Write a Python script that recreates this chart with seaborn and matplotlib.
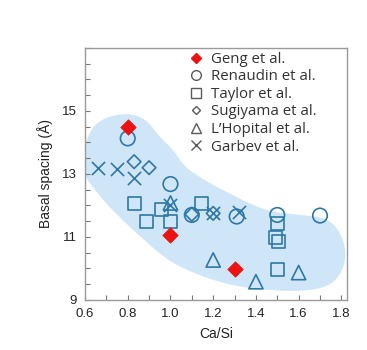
import numpy as np
import pandas as pd
import matplotlib
matplotlib.use("Agg")
import matplotlib.pyplot as plt
from matplotlib.lines import Line2D
from matplotlib.ticker import MultipleLocator
import seaborn as sns

# data (Ca/Si, basal spacing in angstrom)
geng_x = [0.80, 1.00, 1.30]
geng_y = [14.48, 11.06, 9.97]
renaudin_x = [0.80, 1.00, 1.10, 1.31, 1.50, 1.70]
renaudin_y = [14.13, 12.68, 11.70, 11.65, 11.70, 11.68]
taylor_x = [0.83, 0.89, 0.96, 1.00, 1.145, 1.50, 1.49, 1.505, 1.50]
taylor_y = [12.07, 11.50, 11.88, 11.49, 12.07, 11.43, 10.97, 10.86, 9.97]
sugiyama_x = [0.83, 0.90, 1.10, 1.20]
sugiyama_y = [13.39, 13.20, 11.72, 11.75]
lhopital_x = [1.00, 1.20, 1.40, 1.60]
lhopital_y = [12.08, 10.27, 9.58, 9.87]
garbev_x = [0.66, 0.75, 0.83, 1.00, 1.20, 1.32]
garbev_y = [13.18, 13.16, 12.86, 12.00, 11.75, 11.80]

# outline of the shaded band (clockwise from the left end)
band_x = [0.598, 0.604, 0.632, 0.665, 0.712, 0.794, 0.857, 0.903, 0.950, 1.011,
          1.067, 1.138, 1.199, 1.293, 1.372, 1.478, 1.604, 1.714, 1.782, 1.822,
          1.812, 1.762, 1.686, 1.558, 1.370, 1.214, 1.054, 0.970, 0.899, 0.806,
          0.745, 0.698, 0.632, 0.598]
band_y = [13.51, 14.04, 14.44, 14.66, 14.83, 14.92, 14.83, 14.60, 14.17, 13.79,
          13.22, 12.90, 12.65, 12.33, 12.05, 11.79, 11.70, 11.63, 11.31, 10.65,
          10.00, 9.53, 9.33, 9.27, 9.36, 9.59, 10.01, 10.36, 10.77, 11.34,
          11.75, 12.07, 12.62, 12.95]

labels = ["Geng et al.", "Renaudin et al.", "Taylor et al.",
          "Sugiyama et al.", "L\u2019Hopital et al.", "Garbev et al."]

BLUE = "#2f78a6"
RED = "#ee1111"
GREY = "#5a5a5a"


def chaikin(xs, ys, n=3):
    pts = np.column_stack([xs, ys])
    for _ in range(n):
        nxt = np.roll(pts, -1, axis=0)
        q = 0.75 * pts + 0.25 * nxt
        r = 0.25 * pts + 0.75 * nxt
        pts = np.empty((2 * len(q), 2))
        pts[0::2] = q
        pts[1::2] = r
    return pts[:, 0], pts[:, 1]


sns.set_style("white")
plt.rcParams["font.family"] = ["Liberation Sans", "DejaVu Sans"]

fig = plt.figure(figsize=(3.67, 3.5), dpi=100)
ax = fig.add_axes([0.2316, 0.1429, 0.7131, 0.72])

bx, by = chaikin(band_x, band_y)
ax.fill(bx, by, color="#cfe6f8", lw=0, zorder=0)

open_kw = dict(facecolors="none", edgecolors=BLUE, linewidth=1.2, zorder=3, legend=False)
sns.scatterplot(x=renaudin_x, y=renaudin_y, marker="o", s=110, ax=ax, **open_kw)
sns.scatterplot(x=taylor_x, y=taylor_y, marker="s", s=88, ax=ax, **open_kw)
sns.scatterplot(x=sugiyama_x, y=sugiyama_y, marker="D", s=48, ax=ax, **open_kw)
sns.scatterplot(x=lhopital_x, y=lhopital_y, marker="^", s=105, ax=ax, **open_kw)
sns.scatterplot(x=garbev_x, y=garbev_y, marker="x", s=90, color=BLUE,
                linewidth=1.2, zorder=3, legend=False, ax=ax)
sns.scatterplot(x=geng_x, y=geng_y, marker="D", s=62, color=RED,
                edgecolor=RED, linewidth=0.5, zorder=4, legend=False, ax=ax)

ax.set_xlim(0.6, 1.825)
ax.set_ylim(9, 17)
ax.set_xticks([0.6, 0.8, 1.0, 1.2, 1.4, 1.6, 1.8])
ax.set_xticklabels(["0.6", "0.8", "1.0", "1.2", "1.4", "1.6", "1.8"])
ax.xaxis.set_minor_locator(MultipleLocator(0.1))
ax.set_yticks([9, 11, 13, 15])
ax.yaxis.set_minor_locator(MultipleLocator(0.5))
ax.tick_params(which="both", direction="in", length=3.5, width=0.8,
               color="#777777", labelsize=9.5, labelcolor="#222222", pad=6,
               left=True, bottom=True, top=False, right=False)
for sp in ax.spines.values():
    sp.set_color("#9a9a9a")
    sp.set_linewidth(1.0)

ax.set_xlabel("Ca/Si", fontsize=10, color="#222222", labelpad=5)
ax.set_ylabel("Basal spacing (\u00c5)", fontsize=10, color="#222222", labelpad=6)

handles = [
    Line2D([], [], ls="none", marker="D", ms=5, color=RED, mec=RED),
    Line2D([], [], ls="none", marker="o", ms=7, mfc="none", mec=GREY, mew=1.0),
    Line2D([], [], ls="none", marker="s", ms=6.5, mfc="none", mec=GREY, mew=1.0),
    Line2D([], [], ls="none", marker="D", ms=4.5, mfc="none", mec=GREY, mew=1.0),
    Line2D([], [], ls="none", marker="^", ms=7, mfc="none", mec=GREY, mew=1.0),
    Line2D([], [], ls="none", marker="x", ms=6.5, color=GREY, mew=1.0),
]
leg = ax.legend(handles, labels, loc="upper left", bbox_to_anchor=(0.40, 0.985),
                frameon=False, handlelength=0.9, handletextpad=0.5, borderpad=0,
                borderaxespad=0, labelspacing=0.17,
                prop={"family": ["Open Sans", "DejaVu Sans"], "size": 10.8})
for t in leg.get_texts():
    t.set_color("#333333")

fig.savefig("out.png", dpi=100)
